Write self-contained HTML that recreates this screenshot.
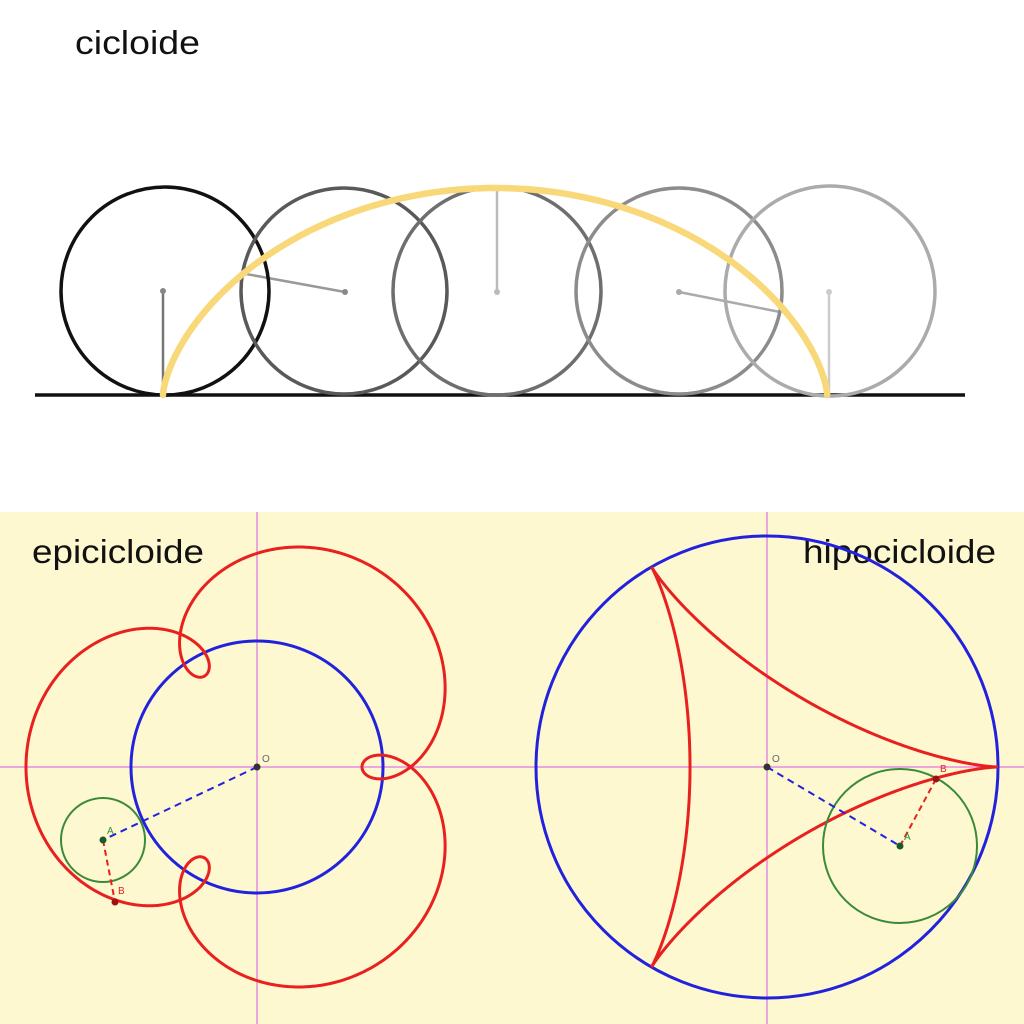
<!DOCTYPE html>
<html><head><meta charset="utf-8"><style>
html,body{margin:0;padding:0;background:#fff;}
svg{display:block;}
text{font-family:"Liberation Sans",sans-serif;}
</style></head><body>
<svg id="s" width="1024" height="1024" viewBox="0 0 1024 1024" xmlns="http://www.w3.org/2000/svg">
<rect x="0" y="0" width="1024" height="512" fill="#ffffff"/>
<text x="75" y="54" font-size="33" fill="#111" textLength="125" lengthAdjust="spacingAndGlyphs">cicloide</text>
<line x1="35" y1="395" x2="965" y2="395" stroke="#111" stroke-width="3.5"/>
<g stroke-width="2.5">
<line x1="163" y1="291" x2="163" y2="395" stroke="#777"/>
<line x1="345" y1="292" x2="246" y2="274" stroke="#999"/>
<line x1="497" y1="292" x2="497" y2="188" stroke="#bbb"/>
<line x1="679" y1="292" x2="780" y2="312" stroke="#aaa"/>
<line x1="829" y1="292" x2="829" y2="395" stroke="#ccc"/>
</g>
<g fill="none" stroke-width="3.5">
<circle cx="165" cy="291" r="104" stroke="#111"/>
<circle cx="344" cy="291" r="103" stroke="#595959"/>
<circle cx="497" cy="291" r="104" stroke="#6e6e6e"/>
<circle cx="679" cy="291" r="103" stroke="#8c8c8c"/>
<circle cx="830" cy="291" r="105" stroke="#ababab"/>
</g>
<g fill="#888"><circle cx="163" cy="291" r="3"/><circle cx="345" cy="292" r="3"/><circle cx="497" cy="292" r="3" fill="#bbb"/><circle cx="679" cy="292" r="3" fill="#aaa"/><circle cx="829" cy="292" r="3" fill="#ccc"/></g>
<path id="cyc" fill="none" stroke="#f8d878" stroke-width="6.5" stroke-linecap="round"/>

<rect x="0" y="512" width="1024" height="512" fill="#fdf8cf"/>
<g stroke="#e58ae0" stroke-width="1.5">
<line x1="257" y1="512" x2="257" y2="1024"/>
<line x1="767" y1="512" x2="767" y2="1024"/>
<line x1="0" y1="767" x2="1024" y2="767"/>
</g>
<text x="32" y="563" font-size="33" fill="#111" textLength="172" lengthAdjust="spacingAndGlyphs">epicicloide</text>
<text x="803" y="563" font-size="33" fill="#111" textLength="193" lengthAdjust="spacingAndGlyphs">hipocicloide</text>

<circle cx="257" cy="767" r="126" fill="none" stroke="#2222dd" stroke-width="3"/>
<path id="epi" fill="none" stroke="#e82020" stroke-width="3"/>
<circle cx="103" cy="840" r="42" fill="none" stroke="#3a8a3a" stroke-width="2"/>
<line x1="257" y1="767" x2="103" y2="840" stroke="#2222dd" stroke-width="2" stroke-dasharray="7,5"/>
<line x1="103" y1="840" x2="115" y2="902" stroke="#e82020" stroke-width="2" stroke-dasharray="6,4"/>
<circle cx="257" cy="767" r="3.5" fill="#333"/>
<circle cx="103" cy="840" r="3.5" fill="#1a5a2a"/>
<circle cx="115" cy="902" r="3.5" fill="#a01010"/>
<text x="262" y="762" font-size="10" fill="#666">O</text>
<text x="107" y="834" font-size="10" fill="#3a8a3a">A</text>
<text x="118" y="894" font-size="10" fill="#e82020">B</text>

<circle cx="767" cy="767" r="231" fill="none" stroke="#2222dd" stroke-width="3"/>
<path id="hyp" fill="none" stroke="#e82020" stroke-width="3"/>
<circle cx="900" cy="846" r="77" fill="none" stroke="#3a8a3a" stroke-width="2"/>
<line x1="767" y1="767" x2="900" y2="846" stroke="#2222dd" stroke-width="2" stroke-dasharray="7,5"/>
<line x1="900" y1="846" x2="936" y2="779" stroke="#e82020" stroke-width="2" stroke-dasharray="6,4"/>
<circle cx="767" cy="767" r="3.5" fill="#333"/>
<circle cx="900" cy="846" r="3.5" fill="#1a5a2a"/>
<circle cx="936" cy="779" r="3.5" fill="#a01010"/>
<text x="772" y="762" font-size="10" fill="#666">O</text>
<text x="904" y="840" font-size="10" fill="#3a8a3a">A</text>
<text x="940" y="772" font-size="10" fill="#e82020">B</text>
</svg>
<script>
(function(){
var d,i,t,N=400;
var r=105.7,ry=103.5;d="";
for(i=0;i<=N;i++){t=2*Math.PI*i/N;var x=163+r*(t-Math.sin(t)),y=395-ry*(1-Math.cos(t));d+=(i?"L":"M")+x.toFixed(2)+" "+y.toFixed(2);}
document.getElementById("cyc").setAttribute("d",d);
var R=126,rr=42,dd=63;d="";N=1200;
for(i=0;i<=N;i++){t=2*Math.PI*i/N;var k=(R+rr)/rr;
var x=(R+rr)*Math.cos(t)-dd*Math.cos(k*t),y=(R+rr)*Math.sin(t)-dd*Math.sin(k*t);
d+=(i?"L":"M")+(257+x).toFixed(2)+" "+(767-y).toFixed(2);}
document.getElementById("epi").setAttribute("d",d+"Z");
R=231;rr=77;d="";
for(i=0;i<=N;i++){t=2*Math.PI*i/N;var k=(R-rr)/rr;
var x=(R-rr)*Math.cos(t)+rr*Math.cos(k*t),y=(R-rr)*Math.sin(t)-rr*Math.sin(k*t);
d+=(i?"L":"M")+(767+x).toFixed(2)+" "+(767-y).toFixed(2);}
document.getElementById("hyp").setAttribute("d",d+"Z");
})();
</script>
</body></html>
